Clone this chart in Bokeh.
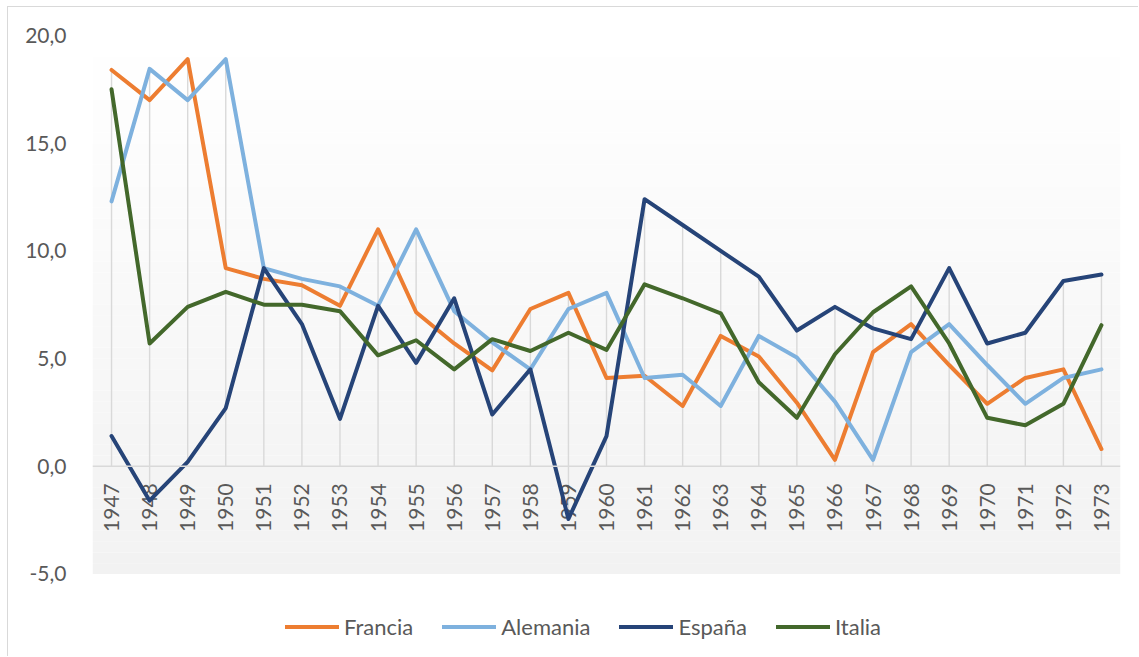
import math
from bokeh.plotting import figure
from bokeh.models import (FactorRange, Range1d, FixedTicker, Span, BoxAnnotation,
                          Legend, LegendItem, ColumnDataSource)
from bokeh.core.properties import value
from bokeh.embed import file_html
from bokeh.resources import INLINE

years = [str(y) for y in range(1947, 1974)]

francia = [18.4, 17.0, 18.9, 9.2, 8.7, 8.4, 7.45, 11.0, 7.15, 5.7, 4.45, 7.3, 8.05, 4.1,
           4.2, 2.8, 6.05, 5.1, 2.95, 0.3, 5.3, 6.6, 4.7, 2.9, 4.1, 4.5, 0.8]
alemania = [12.3, 18.45, 17.0, 18.9, 9.2, 8.7, 8.35, 7.45, 11.0, 7.2, 5.75, 4.5, 7.3, 8.05,
            4.1, 4.25, 2.8, 6.05, 5.05, 3.0, 0.3, 5.3, 6.6, 4.7, 2.9, 4.1, 4.5]
espana = [1.4, -1.6, 0.2, 2.7, 9.2, 6.6, 2.2, 7.45, 4.8, 7.8, 2.4, 4.5, -2.45, 1.4,
          12.4, 11.2, 10.0, 8.8, 6.3, 7.4, 6.4, 5.9, 9.2, 5.7, 6.2, 8.6, 8.9]
italia = [17.5, 5.7, 7.4, 8.1, 7.5, 7.5, 7.2, 5.15, 5.85, 4.5, 5.9, 5.35, 6.2, 5.4,
          8.45, 7.8, 7.1, 3.9, 2.25, 5.2, 7.15, 8.35, 5.7, 2.25, 1.9, 2.9, 6.55]

series_names = ["Francia", "Alemania", "España", "Italia"]
series_values = [francia, alemania, espana, italia]
series_colors = ["#ED7D31", "#7EB1DE", "#264478", "#43682B"]

y_ticks = [-5, 0, 5, 10, 15, 20]
y_tick_labels = ["-5,0", "0,0", "5,0", "10,0", "15,0", "20,0"]

FONT = "Lato"
TEXT_COLOR = "#595959"
Y_MIN, Y_MAX = -5, 20
Y_VIEW_MIN = -8.88  # extra room below the plot area for the legend

p = figure(width=1131, height=650, x_range=FactorRange(*years),
           y_range=Range1d(Y_VIEW_MIN, Y_MAX), output_backend="svg",
           toolbar_location=None,
           min_border_left=84, min_border_right=19, min_border_top=28,
           min_border_bottom=0)
p.x_range.range_padding = 0
p.outline_line_color = None
p.background_fill_color = "white"
p.border_fill_color = "white"
p.styles = {"margin-left": "7px", "margin-top": "6px",
            "border-left": "1px solid #d9d9d9", "border-top": "1px solid #d9d9d9"}

# gradient-like plot-area background
nb = 50
for i in range(nb):
    b = Y_MIN + (Y_MAX - Y_MIN) * i / nb
    t = Y_MIN + (Y_MAX - Y_MIN) * (i + 1) / nb
    frac = i / (nb - 1)
    g = int(round(242 + (255 - 242) * frac))
    p.add_layout(BoxAnnotation(bottom=b, top=t, fill_color=(g, g, g), fill_alpha=1.0,
                               line_color=None, level="underlay"))

# axes
p.xaxis.visible = False
p.yaxis.ticker = FixedTicker(ticks=y_ticks)
p.yaxis.major_label_overrides = {t: l for t, l in zip(y_ticks, y_tick_labels)}
p.yaxis.axis_line_color = None
p.yaxis.major_tick_line_color = None
p.yaxis.minor_tick_line_color = None
p.yaxis.major_label_standoff = 20
p.yaxis.major_label_text_font = FONT
p.yaxis.major_label_text_font_size = "21px"
p.yaxis.major_label_text_color = TEXT_COLOR
p.grid.grid_line_color = None

# drop lines (from the highest series value to the category axis)
tops = [max(0, max(v)) for v in zip(*series_values)]
bots = [min(0, min(v)) for v in zip(*series_values)]
p.segment(x0=years, y0=bots, x1=years, y1=tops, line_color="#d9d9d9", line_width=1.4)

p.add_layout(Span(location=0, dimension="width", line_color="#d9d9d9", line_width=1.5))

# category labels along y = 0
lab_src = ColumnDataSource(dict(x=years, y=[0] * len(years), t=years))
p.text(x="x", y="y", text="t", source=lab_src, angle=math.pi / 2,
       text_align="right", text_baseline="middle", y_offset=17,
       text_font=value(FONT), text_font_size="21px", text_color=TEXT_COLOR)

items = []
for name, vals, col in zip(series_names, series_values, series_colors):
    r = p.line(years, vals, line_color=col, line_width=4,
               line_join="round", line_cap="round")
    items.append(LegendItem(label=name, renderers=[r]))

legend = Legend(items=items, orientation="horizontal", location=(193, 17),
                glyph_width=54, glyph_height=25, label_standoff=5, spacing=29,
                padding=0, margin=0, border_line_color=None,
                background_fill_alpha=0, label_text_font=FONT,
                label_text_font_size="22px", label_text_color=TEXT_COLOR)
p.add_layout(legend, "center")

open("out.html", "w").write(file_html(p, INLINE))
